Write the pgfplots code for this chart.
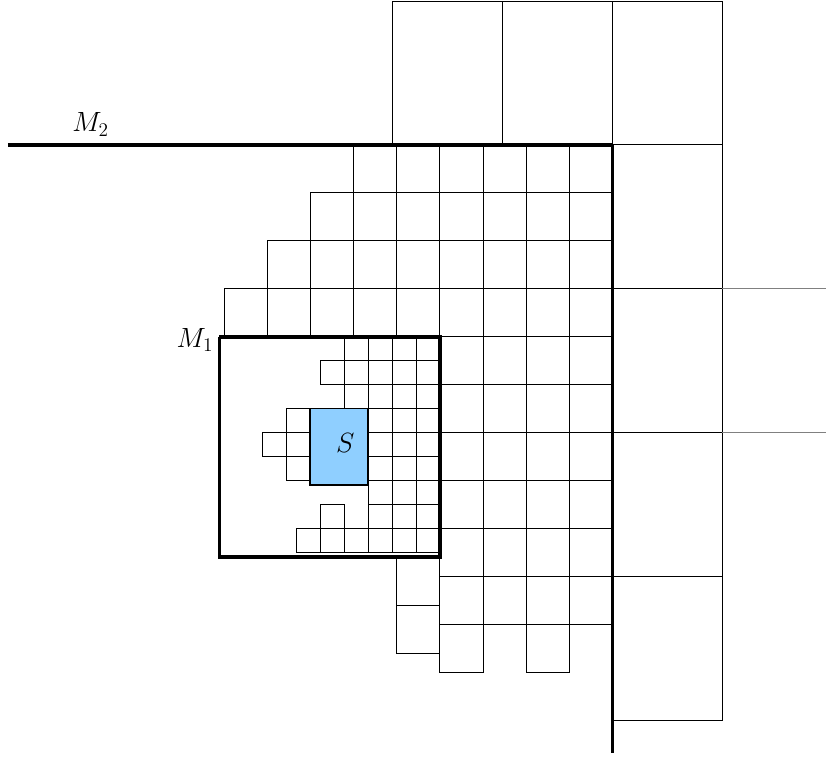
\documentclass[border=0pt]{standalone}
\usepackage{pgfplots}
\usepackage{pgfplotstable}
\pgfplotsset{compat=1.18}
\definecolor{sfill}{RGB}{143,207,255}
% cells: left right top bottom (pixel units, y downward)
\pgfplotstableread{
x1 x2 y1 y2
392.3 502.5 1 145
502.5 612.7 1 145
612.7 722.9 1 145
612.7 722.9 145 289
612.7 722.9 289 433
612.7 722.9 433 577
612.7 722.9 577 721
353.8 397.0 145 193
397.0 440.2 145 193
440.2 483.4 145 193
483.4 526.6 145 193
526.6 569.8 145 193
569.8 613.0 145 193
310.6 353.8 193 241
353.8 397.0 193 241
397.0 440.2 193 241
440.2 483.4 193 241
483.4 526.6 193 241
526.6 569.8 193 241
569.8 613.0 193 241
267.4 310.6 241 289
310.6 353.8 241 289
353.8 397.0 241 289
397.0 440.2 241 289
440.2 483.4 241 289
483.4 526.6 241 289
526.6 569.8 241 289
569.8 613.0 241 289
224.2 267.4 289 337
267.4 310.6 289 337
310.6 353.8 289 337
353.8 397.0 289 337
397.0 440.2 289 337
440.2 483.4 289 337
483.4 526.6 289 337
526.6 569.8 289 337
569.8 613.0 289 337
440.2 483.4 337 385
483.4 526.6 337 385
526.6 569.8 337 385
569.8 613.0 337 385
440.2 483.4 385 433
483.4 526.6 385 433
526.6 569.8 385 433
569.8 613.0 385 433
440.2 483.4 433 481
483.4 526.6 433 481
526.6 569.8 433 481
569.8 613.0 433 481
440.2 483.4 481 529
483.4 526.6 481 529
526.6 569.8 481 529
569.8 613.0 481 529
440.2 483.4 529 577
483.4 526.6 529 577
526.6 569.8 529 577
569.8 613.0 529 577
440.2 483.4 577 625
483.4 526.6 577 625
526.6 569.8 577 625
569.8 613.0 577 625
440.2 483.4 625 673
526.6 569.8 625 673
397.0 440.2 558 606
397.0 440.2 606 654
344.3 368.3 336.7 360.7
368.3 392.3 336.7 360.7
392.3 416.3 336.7 360.7
416.3 440.3 336.7 360.7
320.3 344.3 360.7 384.7
344.3 368.3 360.7 384.7
368.3 392.3 360.7 384.7
392.3 416.3 360.7 384.7
416.3 440.3 360.7 384.7
344.3 368.3 384.7 408.7
368.3 392.3 384.7 408.7
392.3 416.3 384.7 408.7
416.3 440.3 384.7 408.7
286.3 310.3 408.7 432.7
368.3 392.3 408.7 432.7
392.3 416.3 408.7 432.7
416.3 440.3 408.7 432.7
262.3 286.3 432.7 456.7
286.3 310.3 432.7 456.7
368.3 392.3 432.7 456.7
392.3 416.3 432.7 456.7
416.3 440.3 432.7 456.7
286.3 310.3 456.7 480.7
368.3 392.3 456.7 480.7
392.3 416.3 456.7 480.7
416.3 440.3 456.7 480.7
368.3 392.3 480.7 504.7
392.3 416.3 480.7 504.7
416.3 440.3 480.7 504.7
320.3 344.3 504.7 528.7
368.3 392.3 504.7 528.7
392.3 416.3 504.7 528.7
416.3 440.3 504.7 528.7
296.3 320.3 528.7 552.7
320.3 344.3 528.7 552.7
344.3 368.3 528.7 552.7
368.3 392.3 528.7 552.7
392.3 416.3 528.7 552.7
416.3 440.3 528.7 552.7
}\cells
\pgfplotstablegetrowsof{\cells}
\pgfmathtruncatemacro{\lastrow}{\pgfplotsretval-1}
\begin{document}
\begin{tikzpicture}
\begin{axis}[
  scale only axis, width=513pt, height=471.4pt,
  xmin=0, xmax=826, ymin=0, ymax=759, y dir=reverse,
  hide axis, clip=false,
  cell/.style={black, line width=0.6pt, mark=none},
  thickl/.style={black, line width=2.2pt, mark=none},
]
\addplot[draw=none, mark=none] coordinates {(0,0) (826,759)};
\pgfplotsforeachungrouped \i in {0,...,\lastrow}{%
  \pgfplotstablegetelem{\i}{x1}\of\cells \let\xa\pgfplotsretval
  \pgfplotstablegetelem{\i}{x2}\of\cells \let\xb\pgfplotsretval
  \pgfplotstablegetelem{\i}{y1}\of\cells \let\ya\pgfplotsretval
  \pgfplotstablegetelem{\i}{y2}\of\cells \let\yb\pgfplotsretval
  \edef\tmp{\noexpand\addplot[cell] coordinates {(\xa,\ya) (\xb,\ya) (\xb,\yb) (\xa,\yb) (\xa,\ya)};}%
  \tmp
}
% extension lines to the right
\addplot[cell, gray] coordinates {(722.9,289) (826,289)};
\addplot[cell, gray] coordinates {(722.9,433) (826,433)};
% S region
\addplot[black, line width=0.9pt, fill=sfill, mark=none] coordinates {(310.3,408.7) (368.3,408.7) (368.3,485.3) (310.3,485.3) (310.3,408.7)};
% M1 box
\addplot[thickl] coordinates {(219.5,337) (440.3,337) (440.3,557.3) (219.5,557.3) (219.5,337)};
% M2 boundary
\addplot[thickl] coordinates {(8,145) (612.7,145)};
\addplot[thickl] coordinates {(612.7,145) (612.7,753)};
\node[anchor=base west, inner sep=0pt, font=\fontsize{16.5}{20}\selectfont] at (axis cs:72,132) {$M_2$};
\node[anchor=base west, inner sep=0pt, font=\fontsize{16.5}{20}\selectfont] at (axis cs:176.5,347.5) {$M_1$};
\node[anchor=base west, inner sep=0pt, font=\fontsize{16.5}{20}\selectfont] at (axis cs:336,452.5) {$S$};
\end{axis}
\end{tikzpicture}
\end{document}
